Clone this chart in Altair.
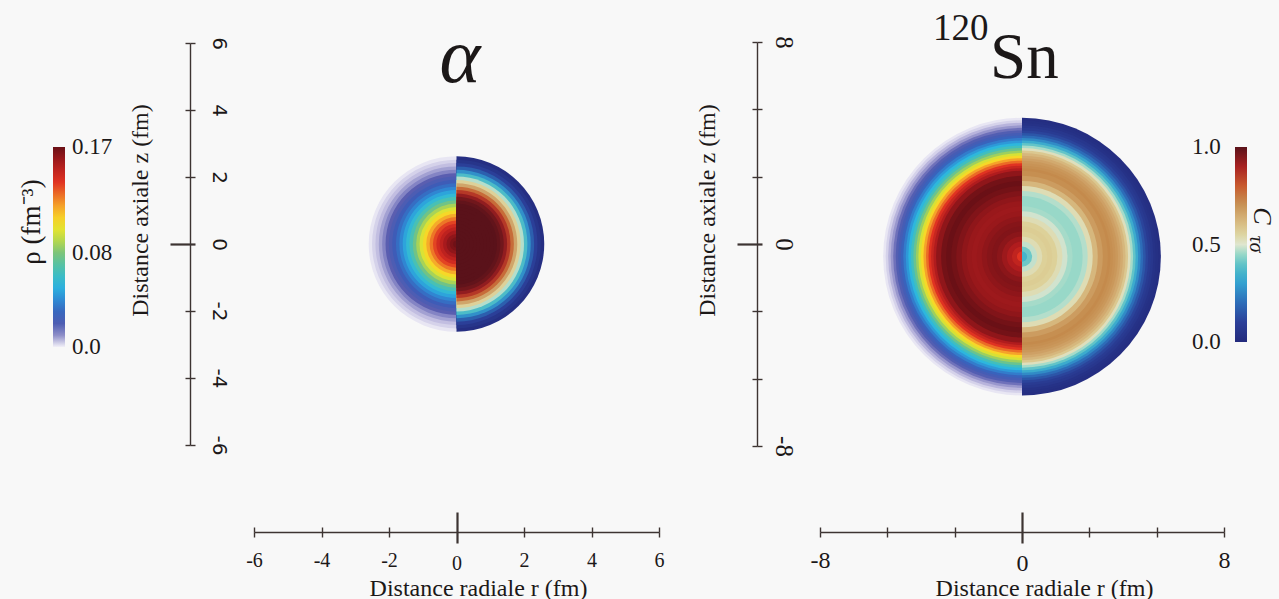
import math
import pandas as pd
import altair as alt

# ---------------- data ----------------
# alpha particle: radial grid (fm), density rho (fm^-3), localisation C_tau_sigma
alpha_r = [0.0, 0.1, 0.2, 0.3, 0.4, 0.5, 0.6, 0.7, 0.8, 0.9, 1.0, 1.1, 1.2, 1.3,
           1.4, 1.5, 1.6, 1.7, 1.8, 1.9, 2.0, 2.1, 2.2, 2.3, 2.4, 2.5, 2.6]
alpha_rho = [0.170, 0.169, 0.166, 0.162, 0.157, 0.151, 0.145, 0.137, 0.128, 0.118,
             0.108, 0.098, 0.088, 0.077, 0.066, 0.056, 0.047, 0.039, 0.032, 0.026,
             0.020, 0.015, 0.011, 0.008, 0.005, 0.003, 0.001]
alpha_c = [1.00, 1.00, 1.00, 1.00, 1.00, 1.00, 1.00, 1.00, 1.00, 1.00, 1.00, 1.00,
           1.00, 0.99, 0.97, 0.93, 0.86, 0.77, 0.66, 0.56, 0.47, 0.38, 0.27, 0.17,
           0.10, 0.05, 0.02]
alpha_center = (0.0, 0.0)

# 120Sn
sn_r = [0.0, 0.2, 0.4, 0.6, 0.8, 1.0, 1.2, 1.4, 1.6, 1.8, 2.0, 2.2, 2.4, 2.6, 2.8,
        3.0, 3.2, 3.4, 3.5, 3.6, 3.7, 3.8, 3.9, 4.0, 4.1, 4.2, 4.3, 4.4, 4.5, 4.6,
        4.7, 4.8, 4.9, 5.0, 5.1, 5.2, 5.3, 5.4, 5.5]
sn_rho = [0.130, 0.140, 0.150, 0.155, 0.159, 0.163, 0.165, 0.164, 0.162, 0.160,
          0.159, 0.160, 0.162, 0.165, 0.168, 0.170, 0.168, 0.162, 0.155, 0.148,
          0.140, 0.130, 0.120, 0.108, 0.097, 0.086, 0.075, 0.063, 0.053, 0.044,
          0.036, 0.029, 0.023, 0.018, 0.013, 0.009, 0.006, 0.003, 0.001]
sn_c = [0.34, 0.36, 0.41, 0.48, 0.53, 0.56, 0.57, 0.56, 0.53, 0.49, 0.46, 0.45,
        0.45, 0.47, 0.53, 0.62, 0.68, 0.71, 0.72, 0.71, 0.70, 0.69, 0.67, 0.65,
        0.62, 0.58, 0.52, 0.46, 0.40, 0.33, 0.26, 0.20, 0.15, 0.11, 0.08, 0.06,
        0.04, 0.03, 0.02]
sn_center = (0.0, -0.5)

alpha_ticks = [-6, -4, -2, 0, 2, 4, 6]
sn_ticks = [-8, -5.333, -2.667, 0, 2.667, 5.333, 8]
# colour-bar label positions (kept just inside the ends so the labels centre on them)
rho_legend_values = [0.0003, 0.08, 0.1697]
c_legend_values = [0.002, 0.5, 0.998]

rho_stops = [0.0, 0.006, 0.015, 0.027, 0.040, 0.052, 0.065, 0.080, 0.095, 0.105,
             0.120, 0.140, 0.155, 0.170]
rho_colors = ["#f2f0f8", "#b8b4dc", "#5a5eb0", "#3b5cb8", "#2f8ad4", "#2bb6e0",
              "#45c0b8", "#7cc47a", "#cfe03a", "#f6e528", "#f5a22a", "#e03322",
              "#b01c1e", "#6a1016"]
c_stops = [0.0, 0.1, 0.2, 0.3, 0.38, 0.45, 0.5, 0.56, 0.64, 0.72, 0.8, 0.9, 1.0]
c_colors = ["#232a7c", "#2b3f98", "#2d6cb8", "#33a0d0", "#4cbcc8", "#98d8c8",
            "#dfe6cf", "#ddd199", "#d4ae74", "#c48a4c", "#c85a2e", "#a82222",
            "#5a121a"]

z_axis_title = "Distance axiale z (fm)"
r_axis_title = "Distance radiale r (fm)"
alpha_title = "α"
sn_mass = "120"
sn_symbol = "Sn"
rho_title = "ρ (fm⁻³)"
c_title_main = "C"
c_title_sub = "τσ"

# ---------------- layout / style ----------------
W, H = 1279, 599
SERIF = "Liberation Serif"
SANS = "DejaVu Sans"
INK = "#1c1818"
LINE = "#3d3432"
BG = "#f8f8f8"
X_AXIS_Y = 532


def at_zero(v0, v):
    return {"condition": {"test": "abs(datum.value) < 0.001", "value": v0}, "value": v}


def panel(r, rho, c, center, half, x_px, y_px, ticks, y_line, x_label_expr,
          y_label_expr, x_label_size, x_label_pad, y_label_font, y_label_size,
          y_label_pad, r_title_x, rho_legend, c_legend):
    df = pd.DataFrame({"r": r, "rho": rho, "c": c})
    df["cx"] = center[0]
    df["cz"] = center[1]
    df = df[df["r"] > 0].sort_values("r", ascending=False)

    xs = alt.Scale(domain=[-half, half], range=list(x_px), nice=False, zero=False)
    ys = alt.Scale(domain=[-half, half], range=list(y_px), nice=False, zero=False)
    px_per_fm = (x_px[1] - x_px[0]) / (2 * half)
    rs = alt.Scale(type="linear", domain=[0, half], range=[0, half * px_per_fm],
                   nice=False)

    x_main = alt.Axis(
        orient="bottom", offset=X_AXIS_Y - H, values=ticks, labelExpr=x_label_expr,
        grid=False, domain=True, domainColor=LINE, domainWidth=1.4,
        ticks=True, tickColor=LINE, tickSize=at_zero(11, 5), tickWidth=at_zero(2.2, 1.4),
        labelFont=SERIF, labelFontSize=x_label_size, labelColor=INK,
        labelPadding=at_zero(x_label_pad - 3, x_label_pad), labelAngle=0,
        labelFlush=False, labelOverlap=False, labelBaseline="top",
        title=r_axis_title, titleFont=SERIF, titleFontSize=24, titleFontWeight="normal",
        titleColor=INK, titleX=r_title_x, titleY=63, titleAlign="center",
        titleBaseline="alphabetic", titleAngle=0)
    x_ghost = alt.Axis(
        orient="top", offset=-X_AXIS_Y, values=ticks, grid=False, domain=False,
        labels=False, ticks=True, tickColor=LINE, tickSize=at_zero(20, 5),
        tickWidth=at_zero(2.2, 1.4), title=None)
    y_main = alt.Axis(
        orient="right", offset=y_line - W, values=ticks, labelExpr=y_label_expr,
        grid=False, domain=True, domainColor=LINE, domainWidth=1.4,
        ticks=True, tickColor=LINE, tickSize=5, tickWidth=at_zero(2.2, 1.4),
        labelFont=y_label_font, labelFontSize=y_label_size, labelColor=INK,
        labelPadding=y_label_pad, labelAngle=90, labelAlign="center",
        labelBaseline="bottom", labelFlush=False, labelOverlap=False,
        title=z_axis_title, titleFont=SERIF, titleFontSize=24, titleFontWeight="normal",
        titleColor=INK, titleX=-50, titleY=210, titleAngle=270, titleAlign="center",
        titleBaseline="middle")
    y_ghost = alt.Axis(
        orient="left", offset=-y_line, values=ticks, grid=False, domain=False,
        labels=False, ticks=True, tickColor=LINE, tickSize=at_zero(20, 5),
        tickWidth=at_zero(2.2, 1.4), title=None)

    radius = alt.Radius("r:Q", scale=rs, stack=False)
    rho_scale = alt.Scale(domain=rho_stops, range=rho_colors, interpolate="rgb", clamp=True)
    c_scale = alt.Scale(domain=c_stops, range=c_colors, interpolate="rgb", clamp=True)

    base = alt.Chart(df)
    rho_arcs = base.mark_arc(theta=math.pi - 0.004, theta2=2 * math.pi + 0.004).encode(
        x=alt.X("cx:Q", scale=xs, axis=x_main),
        y=alt.Y("cz:Q", scale=ys, axis=y_main),
        radius=radius,
        color=alt.Color("rho:Q", scale=rho_scale, legend=rho_legend),
    )
    c_arcs = base.mark_arc(theta=0, theta2=math.pi).encode(
        x=alt.X("cx:Q", scale=xs, axis=None),
        y=alt.Y("cz:Q", scale=ys, axis=None),
        radius=radius,
        color=alt.Color("c:Q", scale=c_scale, legend=c_legend),
    )
    ghost = alt.Chart(pd.DataFrame({"gx": [0.0], "gz": [0.0]})).mark_point(opacity=0).encode(
        x=alt.X("gx:Q", scale=xs, axis=x_ghost),
        y=alt.Y("gz:Q", scale=ys, axis=y_ghost),
    )
    return alt.layer(rho_arcs, c_arcs, ghost).resolve_scale(
        x="independent", y="independent", color="independent")


rho_legend = alt.Legend(
    orient="none", legendX=53, legendY=147, direction="vertical",
    gradientLength=200, gradientThickness=12, gradientStrokeWidth=0,
    values=rho_legend_values,
    labelExpr="datum.value < 0.01 ? '0.0' : format(datum.value, '.2f')",
    labelFont=SERIF, labelFontSize=23, labelColor=INK, labelOffset=7,
    labelOverlap=False, title=None, padding=0)
c_legend = alt.Legend(
    orient="none", legendX=1235, legendY=147, direction="vertical",
    gradientLength=195, gradientThickness=12, gradientStrokeWidth=0,
    values=c_legend_values,
    labelExpr="format(datum.value, '.1f')",
    labelFont=SERIF, labelFontSize=23, labelColor=INK, labelOffset={"expr": "-55"},
    labelOverlap=False, title=None, padding=0)

alpha_panel = panel(
    alpha_r, alpha_rho, alpha_c, alpha_center, 6, (254, 659), (445, 43),
    alpha_ticks, 190, "toString(datum.value)", "toString(datum.value)",
    20, 13, SANS, 20, 13, 478, rho_legend, None)

sn_expr = "abs(datum.value) < 0.01 || abs(datum.value) > 7.9 ? toString(datum.value) : ''"
sn_panel = panel(
    sn_r, sn_rho, sn_c, sn_center, 8, (820, 1224), (446, 42),
    sn_ticks, 757, sn_expr, sn_expr,
    24, 11, SERIF, 25, 8, 1044, None, c_legend)


def label(text, x, y, size, angle=0, style="normal", align="center", baseline="middle"):
    return alt.Chart(pd.DataFrame({"label": [text]})).mark_text(
        font=SERIF, fontSize=size, fontStyle=style, align=align, baseline=baseline,
        angle=angle, color=INK,
    ).encode(x=alt.value(x), y=alt.value(y), text="label:N")


texts = [
    label(alpha_title, 460, 82, 78, style="italic", baseline="alphabetic"),
    label(sn_mass, 933, 40, 37, align="left", baseline="alphabetic"),
    label(sn_symbol, 990, 78, 65, align="left", baseline="alphabetic"),
    label(rho_title, 32, 222, 27, angle=270),
    label(c_title_main, 1262, 216, 26, angle=90, style="italic"),
    label(c_title_sub, 1256, 244, 20, angle=90, style="italic"),
]

chart = alt.layer(alpha_panel, sn_panel, *texts).resolve_scale(
    x="independent", y="independent", color="independent", radius="independent"
).properties(
    width=W, height=H, autosize=alt.AutoSizeParams(type="none"), padding=0,
    background=BG,
).configure_view(stroke="transparent")

chart.save("out.html", embed_options={"renderer": "svg", "actions": False})
